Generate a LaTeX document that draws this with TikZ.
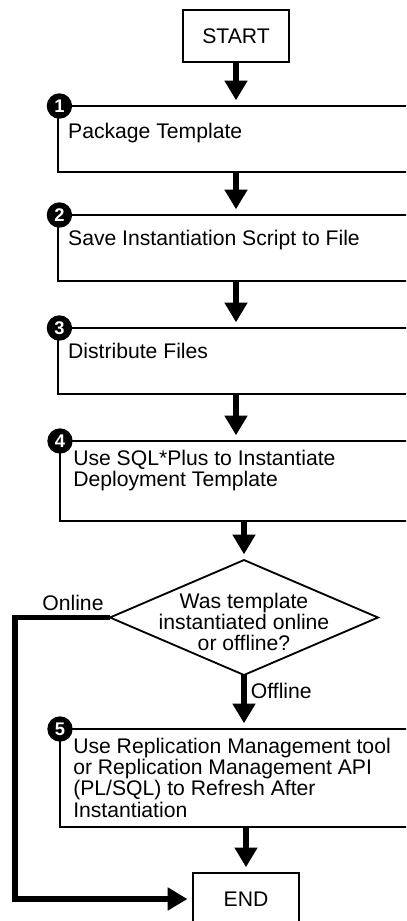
\documentclass[tikz,border=0pt]{standalone}
\usepackage{fontspec}
\setmainfont{Liberation Sans}
\usetikzlibrary{positioning,shapes.geometric,arrows.meta}

\newcommand{\flowfont}{\fontsize{15}{15}\selectfont}

\tikzset{
    stepbox/.style={draw, line width=1.8pt, outer sep=0pt, inner sep=0pt,
        anchor=north west, minimum width=300pt, minimum height=#1},
    stepbox/.default=46.8pt,
    steptext/.style={inner sep=0pt, align=left, font=\flowfont},
    badge/.style={circle, fill=black, text=white, inner sep=0pt,
        minimum size=18pt, font=\bfseries\fontsize{13}{13}\selectfont},
    termbox/.style={draw, line width=1.8pt, outer sep=0pt,
        minimum width=75pt, minimum height=37pt, font=\flowfont},
    decision/.style={diamond, draw, line width=1.3pt, outer sep=0pt, inner sep=0pt,
        minimum width=190pt, minimum height=81.5pt},
    flow/.style={line width=3.8pt, -{Triangle[length=14pt,width=15.5pt]}, shorten >=4pt},
}

\begin{document}
\begin{tikzpicture}[x=0.709pt, y=-0.709pt]
    \useasboundingbox (0,0) rectangle (406,921);
    \clip (0,0) rectangle (406,921);

    %% Start
    \node[termbox] (start) at (236,36) {START};

    %% Steps 1 to 4
    \node[stepbox] (s1) at (58,106) {};
    \node[badge] (b1) at ([xshift=1pt]s1.north west) {1};
    \node[steptext, below right=12pt and 7pt of s1.north west] (t1) {Package Template};

    \node[stepbox] (s2) at (58,215) {};
    \node[badge] (b2) at ([xshift=1pt]s2.north west) {2};
    \node[steptext, below right=10.6pt and 7pt of s2.north west] (t2) {Save Instantiation Script to File};

    \node[stepbox] (s3) at (58,328) {};
    \node[badge] (b3) at ([xshift=1pt]s3.north west) {3};
    \node[steptext, below right=10.6pt and 7pt of s3.north west] (t3) {Distribute Files};

    \node[stepbox=56.7pt] (s4) at (60,441) {};
    \node[badge] (b4) at (s4.north west) {4};
    \node[steptext, below right=6.4pt and 9.2pt of s4.north west] (t4) {Use SQL*Plus to Instantiate\\Deployment Template};

    %% Decision
    \node[decision] (dec) at (244,617.5) {};
    \node[inner sep=0pt, align=center, font=\flowfont] (q) at ([yshift=-3pt]dec.center)
        {Was template\\instantiated online\\or offline?};

    %% Step 5
    \node[stepbox=69.5pt] (s5) at (60,729) {};
    \node[badge] (b5) at (s5.north west) {5};
    \node[steptext, below right=6.4pt and 9.2pt of s5.north west] (t5)
        {Use Replication Management tool\\or Replication Management API\\(PL/SQL) to Refresh After\\Instantiation};

    %% End
    \node[termbox] (end) at (246,899) {END};

    %% Connectors
    \draw[flow] (start.south) -- (start.south |- s1.north);
    \draw[flow] (start.south |- s1.south) -- (start.south |- s2.north);
    \draw[flow] (start.south |- s2.south) -- (start.south |- s3.north);
    \draw[flow] (start.south |- s3.south) -- (start.south |- s4.north);
    \draw[flow] (dec.north |- s4.south) -- (dec.north);
    \draw[flow] (dec.south) -- node[right, pos=0.3, inner sep=3pt, font=\flowfont] {Offline} (dec.south |- s5.north);
    \draw[flow] (end.north |- s5.south) -- (end.north);
    \draw[flow] (dec.west) -- node[above, pos=0.39, inner sep=3pt, font=\flowfont] {Online} ++(-95,0) |- (end.west);

\end{tikzpicture}
\end{document}
